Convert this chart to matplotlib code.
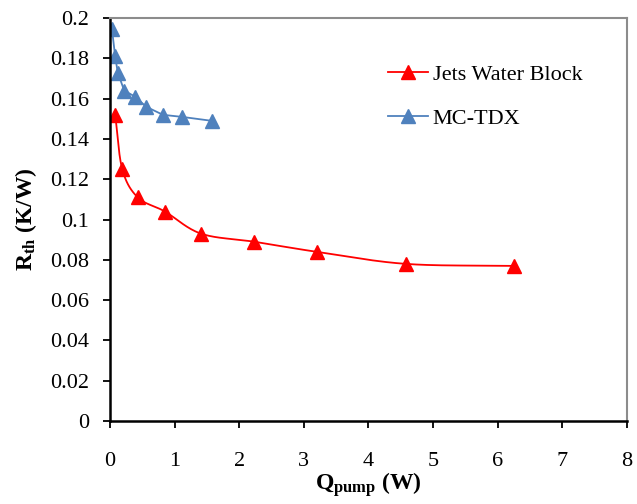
import numpy as np
import matplotlib
matplotlib.use("Agg")
import matplotlib.pyplot as plt

# data
jets_q = [0.08, 0.19, 0.43, 0.85, 1.41, 2.23, 3.20, 4.58, 6.25]
jets_r = [0.152, 0.125, 0.111, 0.104, 0.093, 0.089, 0.084, 0.078, 0.077]
mc_q = [0.03, 0.08, 0.12, 0.22, 0.39, 0.56, 0.82, 1.11, 1.58]
mc_r = [0.1945, 0.181, 0.173, 0.164, 0.161, 0.156, 0.152, 0.151, 0.149]

RED = "#FF0000"
BLUE = "#4F81BD"

plt.rcParams["font.family"] = ["Liberation Serif", "DejaVu Serif"]
plt.rcParams["mathtext.fontset"] = "custom"
plt.rcParams["mathtext.rm"] = "Liberation Serif"
plt.rcParams["mathtext.bf"] = "Liberation Serif:bold"


def smooth(x, y, n=30):
    # Catmull-Rom style curve through the points (like Excel "smoothed line")
    x = np.asarray(x, float); y = np.asarray(y, float)
    px = np.concatenate([[2 * x[0] - x[1]], x, [2 * x[-1] - x[-2]]])
    py = np.concatenate([[2 * y[0] - y[1]], y, [2 * y[-1] - y[-2]]])
    xs, ys = [], []
    t = np.linspace(0, 1, n)
    for i in range(1, len(px) - 2):
        p0, p1, p2, p3 = [np.array([px[j], py[j]]) for j in (i - 1, i, i + 1, i + 2)]
        c = 0.5 * ((2 * p1)[:, None] + (-p0 + p2)[:, None] * t
                   + (2 * p0 - 5 * p1 + 4 * p2 - p3)[:, None] * t ** 2
                   + (-p0 + 3 * p1 - 3 * p2 + p3)[:, None] * t ** 3)
        xs.append(c[0]); ys.append(c[1])
    return np.concatenate(xs), np.concatenate(ys)


fig = plt.figure(figsize=(6.37, 5.04), dpi=100)
ax = fig.add_axes([0.1727, 0.1647, 0.8113, 0.7993])

sx, sy = smooth(jets_q, jets_r)
ax.plot(sx, sy, color=RED, lw=1.3)
ax.plot(jets_q, jets_r, ls="none", marker="^", ms=10.5, color=RED)
ax.plot([], [], color=RED, lw=1.3, marker="^", ms=10.5, label="Jets Water Block")
ax.plot(mc_q, mc_r, color=BLUE, lw=1.3, marker="^", ms=10.5, label="MC-TDX")

ax.set_xlim(0, 8)
ax.set_ylim(0, 0.2)
ax.set_xticks(range(0, 9))
ax.set_yticks(np.arange(0, 0.201, 0.02))
ax.set_yticklabels(["0", "0.02", "0.04", "0.06", "0.08", "0.1", "0.12",
                    "0.14", "0.16", "0.18", "0.2"])
ax.tick_params(direction="out", length=5, width=1.3, labelsize=16, color="black")
ax.tick_params(axis="x", pad=17)
ax.tick_params(axis="y", pad=10)

for s in ("left", "bottom"):
    ax.spines[s].set_color("black")
    ax.spines[s].set_linewidth(1.8)
for s in ("top", "right"):
    ax.spines[s].set_color("#8c8c8c")
    ax.spines[s].set_linewidth(1.5)

ax.set_xlabel(r"$\mathbf{Q_{pump}}$ (W)", fontsize=17, fontweight="bold", labelpad=0)
ax.set_ylabel(r"$\mathbf{R_{th}}$ (K/W)", fontsize=17, fontweight="bold", labelpad=8)

ax.legend(loc="upper left", bbox_to_anchor=(0.5, 0.935), frameon=False,
          fontsize=16, handlelength=1.8, handletextpad=0.2, labelspacing=1.05)

fig.savefig("out.png", dpi=100, facecolor="white")
